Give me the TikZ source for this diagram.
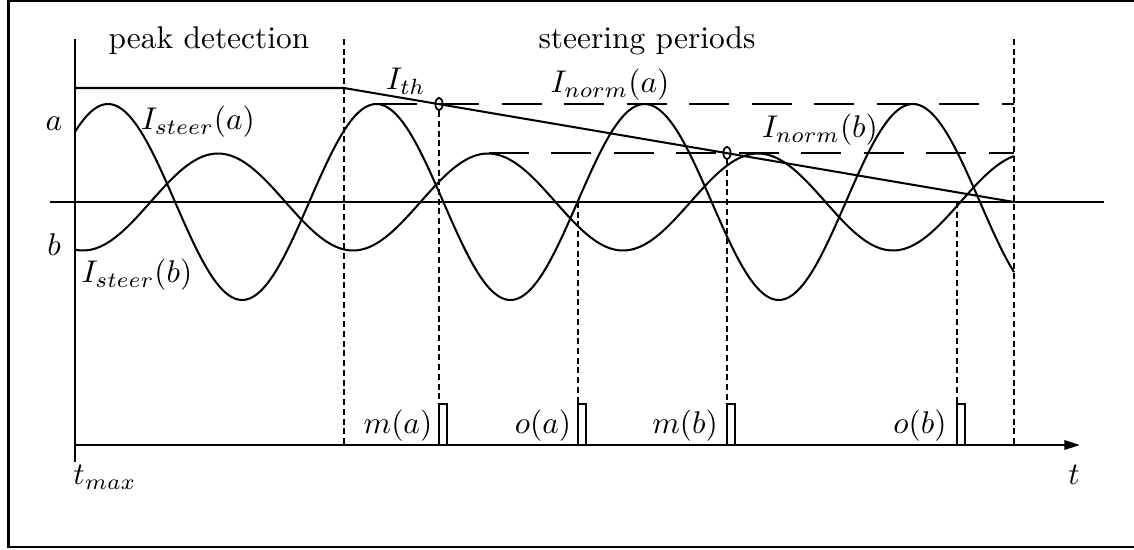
\documentclass[tikz,border=0pt]{standalone}
\usetikzlibrary{arrows.meta,shapes.geometric}
\begin{document}
\begin{tikzpicture}[x=0.3185pt,y=-0.3185pt,
  curve/.style={line width=0.65pt},
  axisline/.style={line width=0.65pt},
  guide/.style={line width=0.6pt, dash pattern=on 1.9pt off 1.2pt},
  normline/.style={line width=0.65pt, dash pattern=on 12.7pt off 7.2pt},
  lab/.style={inner sep=0pt},
  pulsebox/.style={line width=0.6pt},
  crossmark/.style={ellipse, draw, line width=0.55pt, minimum width=2.3pt, minimum height=4pt, inner sep=0pt}]
\useasboundingbox (0,0) rectangle (1134,550);
% frame
\draw[line width=0.8pt] (1137,1) -- (8.5,1) -- (8.5,547) -- (1137,547);

% coordinates
\coordinate (ytop) at (75,39);
\coordinate (ybot) at (75,462);
\coordinate (t0) at (75,445);
\coordinate (tend) at (1080,445);
\coordinate (z0) at (50,202);
\coordinate (z1) at (1104,202);
\coordinate (th0) at (75,88);
\coordinate (th1) at (344,88);
\coordinate (th2) at (1014,202);
\coordinate (d1top) at (344,39);
\coordinate (d1bot) at (344,445);
\coordinate (d2top) at (1014,39);
\coordinate (d2bot) at (1014,445);
\coordinate (na0) at (377,104);
\coordinate (na1) at (1014,104);
\coordinate (nb0) at (489,153);
\coordinate (nb1) at (1014,153);
\coordinate (oa) at (578,202);
\coordinate (ob) at (957,202);

% axes
\draw[axisline] (ytop) -- (ybot);
\draw[axisline,-{Stealth[length=5pt,width=3pt,inset=0pt]}] (t0) -- (tend);
\draw[axisline] (z0) -- (z1);

% period separators
\draw[guide] (d1top) -- (d1bot);
\draw[guide] (d2top) -- (d2bot);

% threshold
\draw[curve] (th0) -- (th1) -- (th2);

% normalisation levels
\draw[normline] (na0) -- (na1);
\draw[normline] (nb0) -- (nb1);

% steering currents
\draw[curve] plot[domain=75:1014,samples=300,smooth] (\x,{202-98*cos(1.34178*(\x-108))});
\draw[curve] plot[domain=75:1014,samples=300,smooth] (\x,{202+48.5*cos(1.33333*(\x-83))});

% crossing marks
\node[crossmark] (ca) at (439,104) {};
\node[crossmark] (cb) at (727,153) {};

% pulses
\foreach \n/\px in {pma/439, poa/578, pmb/727, pob/957}{
  \coordinate (\n) at (\px,404);
  \draw[pulsebox] (\px,445) -- (\px,404) -- (\px+8,404) -- (\px+8,445);
}

% guides to pulses
\draw[guide] (ca.south) -- (pma);
\draw[guide] (oa) -- (poa);
\draw[guide] (cb.south) -- (pmb);
\draw[guide] (ob) -- (pob);

% labels
\node[lab,anchor=base west] (pd) at (108,48) {peak detection};
\node[lab,anchor=base west] (sp) at (538,48) {steering periods};
\node[lab] (lth) at (406,81) {$I_{th}$};
\node[lab] (lna) at (610,85) {$I_{norm}(a)$};
\node[lab] (lnb) at (820,130) {$I_{norm}(b)$};
\node[lab] (lsa) at (198,122) {$I_{steer}(a)$};
\node[lab] (lsb) at (137,275) {$I_{steer}(b)$};
\node[lab] (la) at (54,124) {$a$};
\node[lab] (lb) at (54,245) {$b$};
\node[lab] (lma) at (398,426) {$m(a)$};
\node[lab] (loa) at (543,426) {$o(a)$};
\node[lab] (lmb) at (685,426) {$m(b)$};
\node[lab] (lob) at (920,426) {$o(b)$};
\node[lab] (ltm) at (105,477) {$t_{max}$};
\node[lab] (lt) at (1074,475) {$t$};
\end{tikzpicture}
\end{document}
